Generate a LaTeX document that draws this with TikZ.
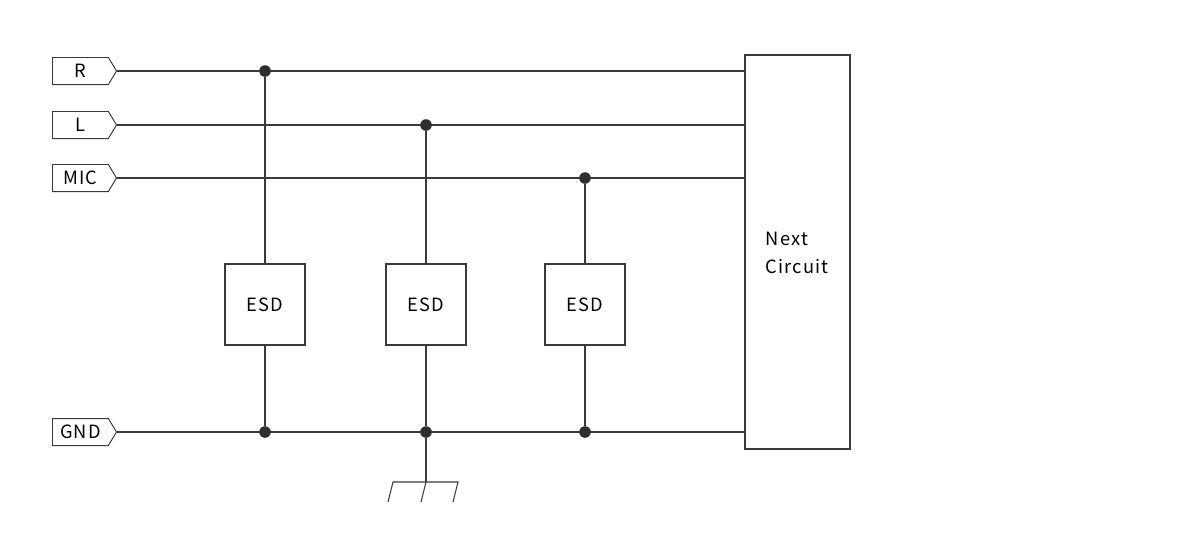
\documentclass[tikz,border=0pt]{standalone}
\usepackage{fontspec}
\setmainfont{Noto Sans CJK SC}[LetterSpace=6]
\usepackage{tikz}
\usetikzlibrary{positioning,shapes.symbols}
\definecolor{wire}{HTML}{3A3A3A}
\tikzset{%
	port/.style   = {draw=wire, line width=0.7pt, signal, signal to=east, signal pointer angle=118, minimum width=1.6cm, minimum height=0.675cm, inner sep=0pt, anchor=west, font=\fontsize{13}{15}\selectfont},
	esdbox/.style = {draw=wire, line width=1.1pt, fill=white, rectangle, minimum width=2cm, minimum height=2.02cm, text centered, font=\fontsize{13}{15}\selectfont},
	wireline/.style = {draw=wire, line width=0.75pt},
	joint/.style  = {circle, fill=wire!80!black, inner sep=0pt, minimum size=0.29cm},
}
\begin{document}
\begin{tikzpicture}[x=0.025cm,y=-0.025cm]
		\useasboundingbox (0,0) rectangle (1200,542);
		% next stage
		\draw[wireline] (745,55) rectangle (850,449);
		\node[anchor=west, align=left, font=\fontsize{13}{20}\selectfont] (nc) at (761,253) {Next\\Circuit};
		% inputs
		\node[port] (pR) at (52,71) {R\hspace{4pt}};
		\node[port] (pL) at (52,125) {L\hspace{4pt}};
		\node[port] (pM) at (52,178) {MIC\hspace{4pt}};
		\node[port] (pG) at (52,432) {GND\hspace{4pt}};
		\coordinate (eR) at (745,71);
		\coordinate (eL) at (745,125);
		\coordinate (eM) at (745,178);
		\coordinate (eG) at (745,432);
		\draw[wireline] (pR.east) -- (eR);
		\draw[wireline] (pL.east) -- (eL);
		\draw[wireline] (pM.east) -- (eM);
		\draw[wireline] (pG.east) -- (eG);
		% protection
		\node[esdbox] (e1) at (265,304.5) {ESD};
		\node[esdbox] (e2) at (426,304.5) {ESD};
		\node[esdbox] (e3) at (585,304.5) {ESD};
		\node[joint] (jR) at (265,71) {};
		\node[joint] (jL) at (426,125) {};
		\node[joint] (jM) at (585,178) {};
		\node[joint] (g1) at (265,432) {};
		\node[joint] (g2) at (426,432) {};
		\node[joint] (g3) at (585,432) {};
		\draw[wireline] (jR) -- (e1) -- (g1);
		\draw[wireline] (jL) -- (e2) -- (g2);
		\draw[wireline] (jM) -- (e3) -- (g3);
		% earth
		\coordinate (gt) at (426,482);
		\draw[wireline] (g2) -- (gt);
		\draw[wireline] (388,502) -- (393,482) -- (458,482) -- (453,502);
		\draw[wireline] (gt) -- (421,502);
	\end{tikzpicture}
\end{document}
